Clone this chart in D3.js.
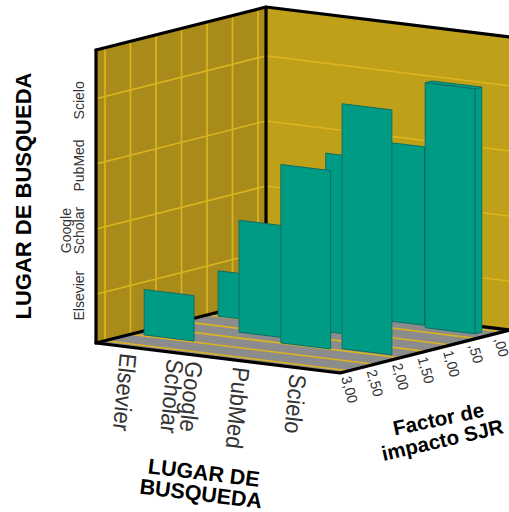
<!DOCTYPE html>
<html lang="en">
<head>
    <meta charset="UTF-8">
    <title>Lugar de busqueda / Factor de impacto SJR</title>
    <script src="https://d3js.org/d3.v7.min.js"></script>
    <style>
        html, body { margin: 0; padding: 0; background: #fff; overflow: hidden; }
        svg { display: block; font-family: "Liberation Sans", Arial, sans-serif; }
        .wall-line { fill: none; stroke: #000; stroke-width: 3.2; stroke-linecap: round; stroke-linejoin: round; }
        .grid-line { fill: none; stroke: #dcb51e; stroke-width: 1.6; }
        .bar-face { fill: #009b84; stroke: #0b6f62; stroke-width: 1; stroke-linejoin: round; }
        .tick-label { fill: #333; font-size: 14px; }
        .axis-title { fill: #000; font-weight: bold; }
    </style>
</head>
<body>
    <script>
        var w = 509;
        var h = 512;

        var categories = ["Elsevier", "Google Scholar", "PubMed", "Scielo"];
        var factorTicks = [3, 2.5, 2, 1.5, 1, 0.5, 0];

        // one entry per bar: x category, factor de impacto, height category
        var barLugarX = ["Elsevier", "Elsevier", "Google Scholar", "PubMed", "PubMed", "PubMed", "Scielo", "Scielo"];
        var barFactor = [2.38, 0.93, 1.63, 1.92, 1.04, 0.08, 1.83, 0.20];
        var barLugarY = ["Elsevier", "Elsevier", "Google Scholar", "PubMed", "PubMed", "PubMed", "Scielo", "Scielo"];

        // oblique box: origin is the front-left floor corner
        var origin = [96, 343];
        var ex = [244, 30];
        var ez = [170, -43];
        var wallH = 293;

        function project(a, s, t) {
            return [
                origin[0] + ex[0] * a + ez[0] * s,
                origin[1] + ex[1] * a + ez[1] * s - wallH * t
            ];
        }

        var xScale = d3.scaleBand()
            .domain(categories)
            .range([0.045, 0.945])
            .paddingInner(0.12);

        var zScale = d3.scaleLinear()
            .domain([3, 0])
            .range([0.053, 0.953]);

        var yScale = d3.scalePoint()
            .domain(categories)
            .range([0, 1])
            .padding(0.75);

        // bar tops sit a little under the wall grid lines at the low end
        var barTop = d3.scalePoint()
            .domain(categories)
            .range([0.155, 0.836]);

        var line = d3.line();

        function poly(points) {
            return line(points) + "Z";
        }

        var svg = d3.select("body")
            .append("svg")
            .attr("width", w)
            .attr("height", h);

        // walls and floor
        svg.append("path").attr("d", poly([project(0, 0, 0), project(0, 1, 0), project(0, 1, 1), project(0, 0, 1)])).attr("fill", "#a98b1b");
        svg.append("path").attr("d", poly([project(0, 1, 0), project(1, 1, 0), project(1, 1, 1), project(0, 1, 1)])).attr("fill", "#bfa119");
        svg.append("path").attr("d", poly([project(0, 0, 0), project(1, 0, 0), project(1, 1, 0), project(0, 1, 0)])).attr("fill", "#8c8c8c");

        // grid lines
        var grid = svg.append("g");
        factorTicks.forEach(function (f) {
            var s = zScale(f);
            grid.append("path").attr("class", "grid-line").attr("d", line([project(0, s, 0), project(0, s, 1)]));
            grid.append("path").attr("class", "grid-line").attr("d", line([project(0, s, 0), project(1, s, 0)]));
        });
        categories.forEach(function (c) {
            var t = yScale(c);
            grid.append("path").attr("class", "grid-line").attr("d", line([project(0, 0, t), project(0, 1, t)]));
            grid.append("path").attr("class", "grid-line").attr("d", line([project(0, 1, t), project(1, 1, t)]));
        });

        // frame
        var frame = svg.append("g");
        [
            [project(0, 0, 1), project(0, 0, 0), project(1, 0, 0), project(1, 1, 0)],
            [project(0, 0, 0), project(0, 1, 0)],
            [project(0, 1, 0), project(0, 1, 1)],
            [project(0, 0, 1), project(0, 1, 1), project(1, 1, 1)],
            [project(0, 1, 0), project(1, 1, 0)]
        ].forEach(function (pts) {
            frame.append("path").attr("class", "wall-line").attr("d", line(pts));
        });

        // bars, back to front
        var barDepth = 0.04;
        var bars = d3.range(barFactor.length).map(function (i) {
            return { x: barLugarX[i], f: barFactor[i], y: barLugarY[i] };
        }).sort(function (p, q) { return p.f - q.f; });

        var barG = svg.append("g");
        bars.forEach(function (d) {
            var a0 = xScale(d.x);
            var a1 = a0 + xScale.bandwidth();
            var s0 = zScale(d.f) - barDepth / 2;
            var s1 = zScale(d.f) + barDepth / 2;
            var t = barTop(d.y);
            // only the last bar against the back wall shows a side in the original
            if (d.x === "Scielo" && d.f < 0.5) {
                barG.append("path").attr("class", "bar-face").attr("d", poly([project(a1, s0, 0), project(a1, s1, 0), project(a1, s1, t), project(a1, s0, t)]));
                barG.append("path").attr("class", "bar-face").attr("d", poly([project(a0, s0, t), project(a1, s0, t), project(a1, s1, t), project(a0, s1, t)]));
            }
            barG.append("path").attr("class", "bar-face").attr("d", poly([project(a0, s0, 0), project(a1, s0, 0), project(a1, s0, t), project(a0, s0, t)]));
        });

        // height axis labels
        categories.forEach(function (c) {
            var p = project(0, 0, yScale(c));
            var parts = c.split(" ");
            parts.forEach(function (txt, i) {
                var bx = 84 - (parts.length - 1 - i) * 13;
                svg.append("text")
                    .attr("class", "tick-label")
                    .attr("text-anchor", "middle")
                    .attr("transform", "translate(" + bx + "," + (p[1] + 1.5) + ") rotate(-90)")
                    .text(txt);
            });
        });

        // front axis labels, sheared onto the floor plane
        categories.forEach(function (c) {
            var p = project(xScale(c) + xScale.bandwidth() / 2, 0, 0);
            var parts = c.split(" ");
            parts.forEach(function (txt, i) {
                var off = (i - (parts.length - 1) / 2) * 19;
                svg.append("text")
                    .attr("class", "tick-label")
                    .attr("transform", "matrix(-0.14,1.56,-1.7,-0.2," + (p[0] - 12 - off) + "," + (p[1] + 5 - off * 0.12) + ")")
                    .text(txt);
            });
        });

        // factor axis labels
        var fmt = d3.format(".2f");
        factorTicks.forEach(function (f) {
            var p = project(1, zScale(f), 0);
            svg.append("text")
                .attr("class", "tick-label")
                .attr("transform", "matrix(0.27,0.96,-1,0.26," + (p[0] - 8) + "," + (p[1] + 7) + ")")
                .text(fmt(f).replace(".", ",").replace(/^0/, ""));
        });

        // axis titles
        function title(txt, cx, cy, angle, size) {
            svg.append("text")
                .attr("class", "axis-title")
                .attr("text-anchor", "middle")
                .attr("font-size", size)
                .attr("transform", "translate(" + cx + "," + cy + ") rotate(" + angle + ")")
                .text(txt);
        }
        title("LUGAR DE BUSQUEDA", 31, 196, -90, 22);
        title("LUGAR DE", 203, 480, 7, 21.5);
        title("BUSQUEDA", 200, 501, 7, 21.5);
        title("Factor de", 440, 426, -12, 20.5);
        title("impacto SJR", 444, 447, -13, 20.5);
    </script>
</body>
</html>
